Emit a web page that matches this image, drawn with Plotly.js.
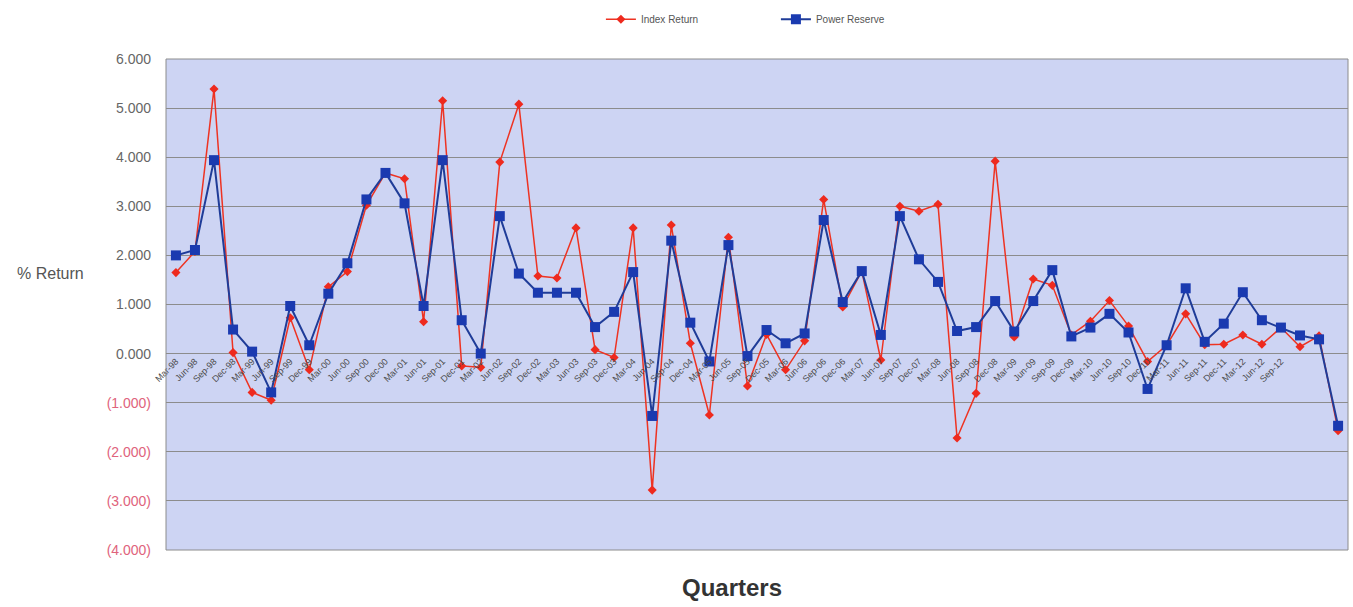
<!DOCTYPE html>
<html>
<head>
<meta charset="utf-8">
<script src="https://cdn.plot.ly/plotly-3.0.1.min.js"></script>
<style>html,body{margin:0;padding:0;background:#fff;}#chart{width:1353px;height:607px;}</style>
</head>
<body>
<div id="chart"></div>
<script>
var quarters = ["Mar-98","Jun-98","Sep-98","Dec-98","Mar-99","Jun-99","Sep-99","Dec-99",
"Mar-00","Jun-00","Sep-00","Dec-00","Mar-01","Jun-01","Sep-01","Dec-01",
"Mar-02","Jun-02","Sep-02","Dec-02","Mar-03","Jun-03","Sep-03","Dec-03",
"Mar-04","Jun-04","Sep-04","Dec-04","Mar-05","Jun-05","Sep-05","Dec-05",
"Mar-06","Jun-06","Sep-06","Dec-06","Mar-07","Jun-07","Sep-07","Dec-07",
"Mar-08","Jun-08","Sep-08","Dec-08","Mar-09","Jun-09","Sep-09","Dec-09",
"Mar-10","Jun-10","Sep-10","Dec-10","Mar-11","Jun-11","Sep-11","Dec-11",
"Mar-12","Jun-12","Sep-12","Dec-12","Mar-13","Jun-13"];

var xTickLabels = ["Mar-98","Jun-98","Sep-98","Dec-98","Mar-99","Jun-99","Sep-99","Dec-99",
"Mar-00","Jun-00","Sep-00","Dec-00","Mar-01","Jun-01","Sep-01","Dec-01",
"Mar-02","Jun-02","Sep-02","Dec-02","Mar-03","Jun-03","Sep-03","Dec-03",
"Mar-04","Jun-04","Sep-04","Dec-04","Mar-05","Jun-05","Sep-05","Dec-05",
"Mar-06","Jun-06","Sep-06","Dec-06","Mar-07","Jun-07","Sep-07","Dec-07",
"Mar-08","Jun-08","Sep-08","Dec-08","Mar-09","Jun-09","Sep-09","Dec-09",
"Mar-10","Jun-10","Sep-10","Dec-10","Mar-11","Jun-11","Sep-11","Dec-11",
"Mar-12","Jun-12","Sep-12","","",""];

var indexReturn = [1.65,2.08,5.39,0.02,-0.79,-0.95,0.73,-0.33,
1.36,1.67,3.02,3.68,3.56,0.65,5.15,-0.25,
-0.28,3.90,5.08,1.58,1.54,2.56,0.08,-0.08,
2.56,-2.78,2.62,0.21,-1.25,2.37,-0.66,0.39,
-0.33,0.26,3.14,0.95,1.68,-0.13,3.00,2.90,
3.04,-1.72,-0.81,3.92,0.34,1.52,1.39,0.38,
0.66,1.08,0.56,-0.16,0.17,0.81,0.18,0.19,
0.38,0.19,0.53,0.14,0.36,-1.57];

var powerReserve = [2.00,2.11,3.94,0.49,0.04,-0.79,0.97,0.17,
1.22,1.84,3.14,3.68,3.06,0.97,3.94,0.68,
0.00,2.80,1.63,1.24,1.24,1.24,0.54,0.85,
1.66,-1.27,2.30,0.63,-0.16,2.21,-0.05,0.48,
0.21,0.41,2.72,1.05,1.68,0.38,2.80,1.92,
1.46,0.46,0.54,1.07,0.45,1.07,1.70,0.35,
0.53,0.81,0.43,-0.72,0.17,1.33,0.24,0.61,
1.25,0.68,0.53,0.37,0.29,-1.47];

var yTickVals = [-4,-3,-2,-1,0,1,2,3,4,5,6];
var yTickLabels = ["(4.000)","(3.000)","(2.000)","(1.000)","0.000","1.000","2.000","3.000","4.000","5.000","6.000"];

var yTickText = yTickLabels.map(function(t, i){
  return yTickVals[i] < 0 ? '<span style="color:#e0637c">' + t + '</span>' : t;
});

var traces = [
  {
    x: quarters, y: indexReturn, name: "Index Return", type: "scatter", mode: "lines+markers",
    line: {color: "#ee3322", width: 1.5},
    marker: {symbol: "diamond", size: 7, color: "#ee2a1e"}
  },
  {
    x: quarters, y: powerReserve, name: "Power Reserve", type: "scatter", mode: "lines+markers",
    line: {color: "#1f3c98", width: 2},
    marker: {symbol: "square", size: 10, color: "#1a3ab0"}
  }
];

var layout = {
  width: 1353, height: 607,
  margin: {l: 166, r: 5, t: 57, b: 57},
  paper_bgcolor: "#ffffff",
  plot_bgcolor: "#cdd4f3",
  font: {family: "Arial, Liberation Sans, sans-serif", color: "#555"},
  showlegend: true,
  legend: {
    orientation: "h", x: 0.516, xanchor: "center", y: 1.081, yanchor: "middle",
    font: {size: 10, color: "#555"}, bgcolor: "rgba(0,0,0,0)", entrywidth: 130
  },
  xaxis: {
    type: "category", categoryorder: "array", categoryarray: quarters,
    range: [-0.52, 61.52],
    anchor: "free", position: 0.4,
    tickmode: "array", tickvals: quarters, ticktext: xTickLabels,
    tickangle: -45, tickfont: {size: 9, color: "#4a4a4a", family: "Arial, sans-serif"},
    ticks: "", showgrid: false, zeroline: false, showline: false
  },
  yaxis: {
    range: [-4, 6], tickmode: "array", tickvals: yTickVals, ticktext: yTickText,
    tickfont: {size: 14, color: "#666"}, ticks: "", ticklabelstandoff: 14,
    showgrid: true, gridcolor: "#8c8c8c", gridwidth: 1, zeroline: false, showline: false
  },
  shapes: [
    {type: "rect", xref: "paper", yref: "paper", x0: 0, x1: 1, y0: 0, y1: 1,
     line: {color: "#8c8c8c", width: 1}}
  ],
  annotations: [
    {text: "% Return", xref: "paper", yref: "paper", x: -0.098, y: 0.564,
     showarrow: false, xanchor: "center", yanchor: "middle", font: {size: 16, color: "#555"}},
    {text: "<b>Quarters</b>", xref: "paper", yref: "paper", x: 0.479, y: -0.077,
     showarrow: false, xanchor: "center", yanchor: "middle", font: {size: 24, color: "#333"}}
  ]
};

Plotly.newPlot("chart", traces, layout, {displayModeBar: false, staticPlot: true});
</script>
</body>
</html>
